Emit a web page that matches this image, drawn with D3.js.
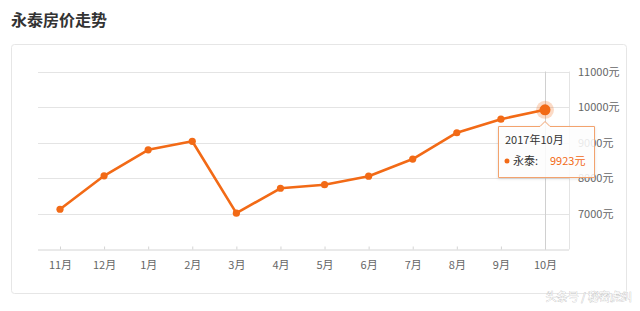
<!DOCTYPE html>
<html><head><meta charset="utf-8">
<script src="https://cdn.jsdelivr.net/npm/d3@7"></script>
<style>
html,body{margin:0;padding:0;background:#fff;}
svg{display:block;font-family:"Noto Sans CJK SC","Microsoft YaHei",sans-serif;}
</style></head>
<body>
<svg id="c" width="640" height="311"></svg>
<script>
const title = "永泰房价走势";
const months = ["11月","12月","1月","2月","3月","4月","5月","6月","7月","8月","9月","10月"];
const prices = [7130, 8070, 8800, 9040, 7020, 7720, 7820, 8060, 8540, 9280, 9660, 9923];
const yTicks = [7000, 8000, 9000, 10000, 11000];
const seriesName = "永泰";
const tipDate = "2017年10月";
const watermark = "头条号 / 秘密虎纠";

const svg = d3.select("#c");
const orange = "#f26a16";

svg.append("text").attr("x", 11).attr("y", 26).attr("font-size", 16).attr("font-weight", "bold")
  .attr("fill", "#333").text(title);

svg.append("rect").attr("x", 11.5).attr("y", 44.5).attr("width", 615).attr("height", 249)
  .attr("rx", 3).attr("fill", "none").attr("stroke", "#e6e6e6");

const L = 38, R = 569, T = 71.5, B = 249.5;
const x = d3.scalePoint().domain(months).range([60, 545]);
const y = d3.scaleLinear().domain([6000, 11000]).range([B, T]);

// grid
svg.append("g").selectAll("line").data(yTicks).join("line")
  .attr("x1", L).attr("x2", R)
  .attr("y1", d => Math.round(y(d)) + 0.5).attr("y2", d => Math.round(y(d)) + 0.5)
  .attr("stroke", "#e4e4e4");
svg.append("line").attr("x1", R + 0.5).attr("x2", R + 0.5).attr("y1", T).attr("y2", B)
  .attr("stroke", "#e4e4e4");

// x axis
const xa = svg.append("g").attr("transform", `translate(0,${B})`)
  .call(d3.axisBottom(x).tickSize(3).tickPadding(9));
xa.select(".domain").attr("stroke", "#d4d4d4").attr("d", `M${L},0.5H${R}`);
xa.selectAll(".tick line").attr("stroke", "#d4d4d4").attr("y1", -3).attr("y2", 0);
xa.selectAll(".tick text").attr("fill", "#666").attr("font-size", 11)
  .attr("font-family", "Noto Sans CJK SC, sans-serif");

// y axis labels right
const ya = svg.append("g").attr("transform", `translate(${R},0)`)
  .call(d3.axisRight(y).tickValues(yTicks).tickSize(0).tickPadding(9).tickFormat(d => d + "元"));
ya.select(".domain").remove();
ya.selectAll(".tick text").attr("fill", "#666").attr("font-size", 11)
  .attr("font-family", "Noto Sans CJK SC, sans-serif");

// hover line
const last = months.length - 1;
svg.append("line").attr("x1", Math.round(x(months[last])) + 0.5).attr("x2", Math.round(x(months[last])) + 0.5)
  .attr("y1", T).attr("y2", B).attr("stroke", "#d0d0d0");

// line
const line = d3.line().x((d, i) => x(months[i])).y(d => y(d));
svg.append("path").datum(prices).attr("d", line).attr("fill", "none")
  .attr("stroke", orange).attr("stroke-width", 2.6).attr("stroke-linejoin", "round");
svg.append("g").selectAll("circle").data(prices).join("circle")
  .attr("cx", (d, i) => x(months[i])).attr("cy", d => y(d)).attr("r", 3.6).attr("fill", orange);

// highlight
svg.append("circle").attr("cx", x(months[last])).attr("cy", y(prices[last])).attr("r", 9)
  .attr("fill", orange).attr("opacity", 0.25);
svg.append("circle").attr("cx", x(months[last])).attr("cy", y(prices[last])).attr("r", 5.5)
  .attr("fill", orange);

// tooltip
const px = x(months[last]);
const bx = 498.5, by = 126.5, bw = 96, bh = 51;
const path = `M${bx},${by} H${px - 5} L${px},${by - 5} L${px + 5},${by} H${bx + bw} V${by + bh} H${bx} Z`;
const defs = svg.append("defs");
const f = defs.append("filter").attr("id", "sh").attr("x", "-20%").attr("y", "-20%").attr("width", "140%").attr("height", "140%");
f.append("feDropShadow").attr("dx", 0).attr("dy", 1).attr("stdDeviation", 1.5).attr("flood-color", "#000").attr("flood-opacity", 0.12);
svg.append("path").attr("d", path).attr("fill", "rgba(255,255,255,0.85)")
  .attr("stroke", "#f3a36e").attr("stroke-width", 1).attr("filter", "url(#sh)");
svg.append("text").attr("x", 505).attr("y", 144).attr("font-size", 11).attr("fill", "#333").text(tipDate);
svg.append("circle").attr("cx", 507).attr("cy", 161).attr("r", 2.5).attr("fill", orange);
svg.append("text").attr("x", 513).attr("y", 165).attr("font-size", 11).attr("fill", "#333").text(seriesName + ":");
svg.append("text").attr("x", 550).attr("y", 165).attr("font-size", 11).attr("fill", orange).text(prices[last] + "元");

// watermark
svg.append("text").attr("x", 632).attr("y", 301).attr("text-anchor", "end").attr("font-size", 11)
  .attr("fill", "#fff").attr("stroke", "#bbb").attr("stroke-width", 0.6).attr("paint-order", "stroke")
  .text(watermark);
</script>
</body></html>
